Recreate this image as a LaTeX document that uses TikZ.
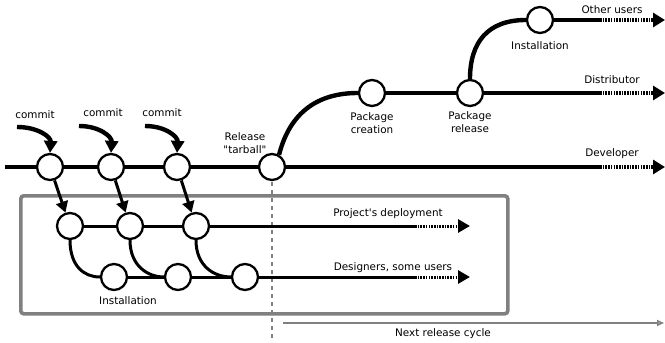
\documentclass[tikz,border=0pt]{standalone}
\usepackage{fontspec}
\setmainfont{DejaVu Sans}[Ligatures=TeXOff]
\usetikzlibrary{arrows.meta}
\tikzset{
  ev/.style={circle,draw,line width=2.3pt,fill=white,minimum size=26pt,inner sep=0pt},
  mainln/.style={line width=4.4pt},
  subln/.style={line width=3pt},
  dotln/.style={dash pattern=on 1.6pt off 1.1pt},
  bigtip/.style={-{Triangle[length=12pt,width=14pt]}},
  midtip/.style={-{Triangle[length=12pt,width=13pt]}},
  lbl/.style={font=\fontsize{10.4}{12.6}\selectfont,inner sep=0pt,align=center},
  graybox/.style={draw=black!50,line width=3.6pt,rounded corners=3pt},
}
\begin{document}
\begin{tikzpicture}[x=1pt,y=-1pt]
\useasboundingbox (0,0) rectangle (665,343);
% gray box and release divider
\node[graybox,minimum width=487pt,minimum height=118pt,anchor=north west] (box) at (19,194) {};
\coordinate (dvtop) at (272,182);
\coordinate (dvbot) at (272,340);
\draw[black!50,line width=1.4pt,dash pattern=on 4pt off 4pt] (dvtop) -- (dvbot);
% nodes
\node[ev] (c1) at (50,167) {};
\node[ev] (c2) at (111,167) {};
\node[ev] (c3) at (177,167) {};
\node[ev] (rel) at (272,167) {};
\node[ev] (pc) at (372,93) {};
\node[ev] (pr) at (470,93) {};
\node[ev] (inst) at (540,20) {};
\node[ev] (r1) at (70,226) {};
\node[ev] (r2) at (130,226) {};
\node[ev] (r3) at (196,226) {};
\node[ev] (s1) at (114,277) {};
\node[ev] (s2) at (178,277) {};
\node[ev] (s3) at (245,277) {};
% coordinates
\coordinate (devA) at (5,167);
\coordinate (devB) at (600,167);
\coordinate (devC) at (665,167);
\coordinate (disB) at (600,93);
\coordinate (disC) at (665,93);
\coordinate (othB) at (600,20);
\coordinate (othC) at (665,20);
\coordinate (prjB) at (415,226);
\coordinate (prjC) at (470,226);
\coordinate (desB) at (415,277);
\coordinate (desC) at (470,277);
\coordinate (cm1) at (17,127);
\coordinate (cm2) at (79,126);
\coordinate (cm3) at (145,126);
\coordinate (nrA) at (283,323);
\coordinate (nrB) at (664,323);
% developer line
\draw[mainln] (devA) -- (c1) -- (c2) -- (c3) -- (rel) -- (devB);
\draw[mainln,dotln,bigtip] (devB) -- (devC);
% distributor
\draw[mainln] (rel.60) .. controls (290,112) and (318,93) .. (pc.west);
\draw[mainln] (pc) -- (pr) -- (disB);
\draw[mainln,dotln,bigtip] (disB) -- (disC);
% other users
\draw[mainln] (pr.north) .. controls (470,42) and (488,20) .. (inst.west);
\draw[mainln] (inst) -- (othB);
\draw[mainln,dotln,bigtip] (othB) -- (othC);
% commits
\draw[mainln,-{Triangle[length=12pt,width=13pt]}] (cm1) .. controls (38,127) and (51,137) .. (c1.north);
\draw[mainln,-{Triangle[length=12pt,width=13pt]}] (cm2) .. controls (100,126) and (112,137) .. (c2.north);
\draw[mainln,-{Triangle[length=12pt,width=13pt]}] (cm3) .. controls (166,126) and (178,137) .. (c3.north);
% down to deployment
\draw[subln,-{Triangle[length=11pt,width=12pt]}] (c1) -- (r1);
\draw[subln,-{Triangle[length=11pt,width=12pt]}] (c2) -- (r2);
\draw[subln,-{Triangle[length=11pt,width=12pt]}] (c3) -- (r3);
% project's deployment
\draw[subln] (r1) -- (r2) -- (r3) -- (prjB);
\draw[subln,dotln,midtip] (prjB) -- (prjC);
% designers
\draw[subln] (r1.south) .. controls (70,266) and (84,277) .. (s1.west);
\draw[subln] (r2.south) .. controls (130,266) and (148,277) .. (s2.west);
\draw[subln] (r3.south) .. controls (196,266) and (214,277) .. (s3.west);
\draw[subln] (s1) -- (s2) -- (s3) -- (desB);
\draw[subln,dotln,midtip] (desB) -- (desC);
% next release cycle
\draw[black!50,line width=1.6pt,-{Triangle[length=7pt,width=6pt,open]}] (nrA) -- (nrB);
% labels
\node[lbl] (lc1) at (35,115) {commit};
\node[lbl] (lc2) at (103,113) {commit};
\node[lbl] (lc3) at (162,113) {commit};
\node[lbl] (lrel) at (245,143) {Release\\"tarball"};
\node[lbl] (lpc) at (372,123) {Package\\creation};
\node[lbl] (lpr) at (470,122) {Package\\release};
\node[lbl] (linst) at (540,46) {Installation};
\node[lbl] (lins2) at (128,301) {Installation};
\node[lbl] (loth) at (612,10) {Other users};
\node[lbl] (ldis) at (612,80) {Distributor};
\node[lbl] (ldev) at (612,154) {Developer};
\node[lbl] (lprj) at (388,214) {Project's deployment};
\node[lbl] (ldes) at (393,268) {Designers, some users};
\node[lbl] (lnr) at (443,334) {Next release cycle};
\end{tikzpicture}
\end{document}
